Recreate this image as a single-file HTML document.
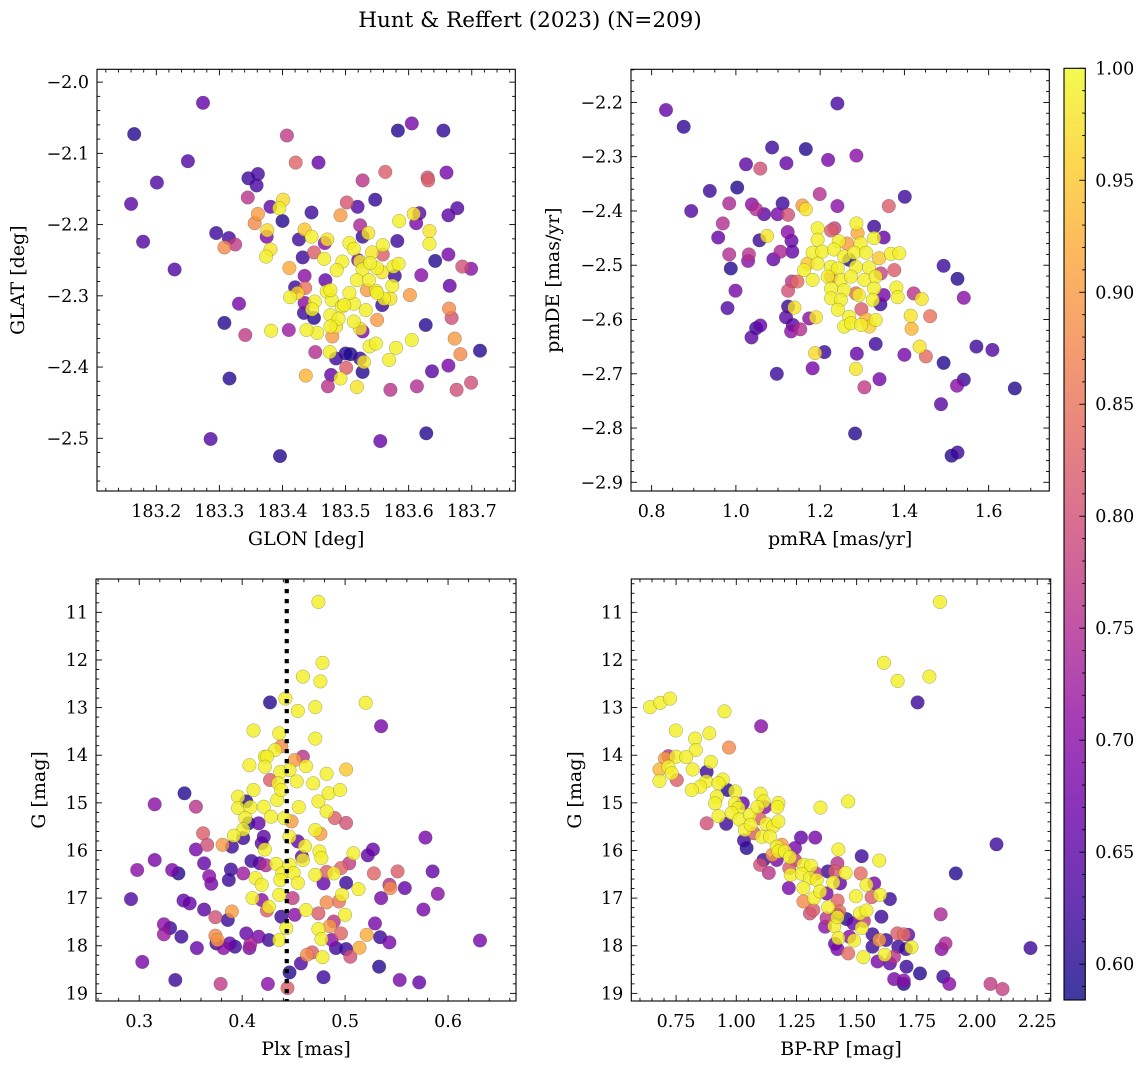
<!DOCTYPE html>
<html><head><meta charset="utf-8"><style>
html,body{margin:0;padding:0;background:#fff;}
svg{display:block;font-family:"DejaVu Serif","Liberation Serif",serif;}
</style></head><body>
<svg id="fig" width="1148" height="1068" viewBox="0 0 1148 1068" xmlns="http://www.w3.org/2000/svg">
<defs><linearGradient id="cbgrad" x1="0" y1="1" x2="0" y2="0"></linearGradient></defs>
<text x="530" y="27" font-size="21.5" text-anchor="middle" fill="#000">Hunt &amp; Reffert (2023) (N=209)</text>
</svg>
<script>
// Panel A: GLON vs GLAT
const glon=[183.274,183.165,183.407,183.583,183.605,183.655,183.250,183.421,183.457,183.201,183.160,183.346,183.361,183.359,183.345,183.527,183.563,183.630,183.631,183.660,183.401,183.395,183.381,183.361,183.356,183.400,183.446,183.502,183.492,183.519,183.547,183.677,183.663,183.617,183.612,183.608,183.585,183.633,183.633,183.179,183.295,183.315,183.325,183.308,183.376,183.375,183.381,183.374,183.229,183.426,183.435,183.446,183.471,183.467,183.432,183.450,183.466,183.411,183.523,183.536,183.527,183.506,183.513,183.559,183.559,183.542,183.582,183.663,183.642,183.685,183.699,183.620,183.665,183.602,183.435,183.420,183.468,183.495,183.486,183.520,183.523,183.527,183.550,183.558,183.576,183.584,183.578,183.574,183.518,183.534,183.548,183.561,183.571,183.558,183.412,183.424,183.436,183.435,183.451,183.470,183.478,183.494,183.513,183.532,183.434,183.450,183.447,183.476,183.489,183.513,183.523,183.527,183.550,183.476,183.479,183.485,183.455,183.438,183.382,183.410,183.331,183.308,183.341,183.452,183.475,183.485,183.500,183.508,183.523,183.529,183.538,183.548,183.580,183.569,183.605,183.627,183.664,183.668,183.673,183.682,183.713,183.663,183.637,183.699,183.676,183.613,183.571,183.527,183.518,183.501,183.492,183.477,183.472,183.437,183.316,183.286,183.396,183.555,183.628,183.506,183.537,183.550,183.498,183.539,183.476];
const glat=[-2.029,-2.073,-2.075,-2.068,-2.058,-2.068,-2.111,-2.113,-2.113,-2.141,-2.171,-2.135,-2.129,-2.145,-2.162,-2.138,-2.126,-2.134,-2.138,-2.127,-2.165,-2.177,-2.175,-2.185,-2.198,-2.195,-2.183,-2.169,-2.187,-2.175,-2.165,-2.177,-2.187,-2.184,-2.198,-2.185,-2.195,-2.209,-2.227,-2.224,-2.212,-2.219,-2.228,-2.232,-2.208,-2.217,-2.235,-2.245,-2.263,-2.221,-2.207,-2.217,-2.221,-2.226,-2.246,-2.239,-2.248,-2.261,-2.201,-2.212,-2.217,-2.226,-2.234,-2.229,-2.242,-2.239,-2.223,-2.242,-2.251,-2.259,-2.262,-2.271,-2.286,-2.299,-2.272,-2.288,-2.278,-2.252,-2.264,-2.250,-2.252,-2.263,-2.261,-2.267,-2.259,-2.255,-2.272,-2.286,-2.278,-2.292,-2.293,-2.304,-2.304,-2.313,-2.302,-2.296,-2.289,-2.310,-2.308,-2.294,-2.306,-2.315,-2.311,-2.320,-2.324,-2.331,-2.319,-2.327,-2.332,-2.336,-2.346,-2.350,-2.334,-2.343,-2.357,-2.343,-2.352,-2.348,-2.349,-2.348,-2.311,-2.338,-2.355,-2.379,-2.379,-2.388,-2.381,-2.382,-2.388,-2.393,-2.371,-2.367,-2.373,-2.390,-2.362,-2.341,-2.318,-2.331,-2.360,-2.382,-2.377,-2.398,-2.406,-2.422,-2.432,-2.427,-2.432,-2.407,-2.428,-2.401,-2.416,-2.411,-2.427,-2.412,-2.416,-2.501,-2.525,-2.504,-2.493,-2.296,-2.278,-2.296,-2.313,-2.254,-2.292];
const probA=[0.66,0.60,0.77,0.60,0.68,0.61,0.64,0.83,0.66,0.64,0.65,0.62,0.63,0.63,0.76,0.76,0.82,0.80,0.82,0.68,0.97,0.99,0.66,0.90,0.88,0.60,0.62,0.81,0.90,0.64,0.61,0.64,0.65,0.65,0.68,0.98,0.99,0.98,0.99,0.64,0.62,0.63,0.77,0.88,0.97,0.68,0.98,0.99,0.64,0.62,0.95,0.99,0.98,0.70,0.62,0.82,0.99,0.92,0.74,0.98,0.62,0.99,0.99,0.99,0.82,0.98,0.62,0.68,0.60,0.80,0.70,0.70,0.66,0.90,0.70,0.62,0.66,0.99,0.99,0.68,0.99,0.99,0.99,0.98,0.99,0.99,0.62,0.99,0.99,0.90,0.99,0.99,0.98,0.62,0.99,0.96,0.85,0.70,0.99,0.99,0.99,0.99,0.99,0.99,0.62,0.60,0.99,0.99,0.99,0.99,0.98,0.68,0.90,0.99,0.90,0.98,0.99,0.99,0.99,0.72,0.68,0.60,0.77,0.75,0.99,0.62,0.60,0.59,0.62,0.98,0.99,0.99,0.99,0.99,0.99,0.60,0.88,0.80,0.90,0.88,0.60,0.68,0.65,0.80,0.80,0.75,0.76,0.60,0.98,0.82,0.99,0.66,0.76,0.93,0.60,0.64,0.60,0.66,0.60,0.99,0.99,0.99,0.99,0.99,0.99];

// Panel B: pmRA vs pmDE
const pmra=[0.834,0.876,1.241,1.086,1.166,1.024,1.058,1.120,1.219,1.286,0.938,1.003,0.894,0.984,1.038,1.048,1.067,1.111,1.099,1.124,1.158,1.166,1.199,1.241,1.401,1.363,0.969,0.958,1.056,1.074,1.123,1.132,0.984,1.031,1.029,1.089,1.106,1.134,0.988,0.999,0.980,1.124,1.133,1.146,1.124,1.139,1.119,1.174,1.135,1.131,1.153,1.058,1.048,1.037,1.190,1.210,1.188,1.182,1.097,1.287,1.285,1.305,1.341,1.332,1.400,1.451,1.436,1.415,1.417,1.461,1.422,1.441,1.493,1.526,1.541,1.571,1.609,1.493,1.541,1.525,1.662,1.487,1.283,1.512,1.526,1.194,1.226,1.234,1.286,1.289,1.328,1.351,1.328,1.194,1.244,1.264,1.296,1.182,1.205,1.233,1.257,1.281,1.309,1.340,1.368,1.388,1.170,1.194,1.226,1.242,1.269,1.285,1.316,1.344,1.376,1.162,1.182,1.218,1.249,1.273,1.305,1.332,1.226,1.257,1.285,1.292,1.328,1.351,1.381,1.384,1.226,1.249,1.325,1.343,1.242,1.298,1.269,1.257,1.273,1.297,1.317,1.332,1.309,1.226];
const pmde=[-2.214,-2.245,-2.202,-2.283,-2.286,-2.314,-2.322,-2.312,-2.306,-2.298,-2.363,-2.357,-2.400,-2.386,-2.388,-2.397,-2.406,-2.386,-2.406,-2.407,-2.390,-2.397,-2.369,-2.391,-2.374,-2.391,-2.423,-2.449,-2.454,-2.446,-2.439,-2.455,-2.480,-2.480,-2.492,-2.489,-2.475,-2.475,-2.506,-2.547,-2.579,-2.547,-2.530,-2.530,-2.576,-2.578,-2.596,-2.598,-2.610,-2.622,-2.618,-2.611,-2.616,-2.633,-2.596,-2.660,-2.662,-2.690,-2.700,-2.663,-2.691,-2.725,-2.710,-2.645,-2.665,-2.668,-2.650,-2.593,-2.617,-2.594,-2.552,-2.562,-2.501,-2.525,-2.560,-2.650,-2.656,-2.680,-2.711,-2.722,-2.727,-2.756,-2.810,-2.851,-2.845,-2.432,-2.436,-2.432,-2.423,-2.441,-2.429,-2.449,-2.450,-2.453,-2.456,-2.460,-2.460,-2.477,-2.475,-2.471,-2.484,-2.477,-2.477,-2.487,-2.479,-2.478,-2.497,-2.497,-2.503,-2.506,-2.490,-2.503,-2.504,-2.515,-2.509,-2.509,-2.527,-2.521,-2.527,-2.521,-2.527,-2.521,-2.543,-2.546,-2.552,-2.555,-2.543,-2.555,-2.541,-2.559,-2.561,-2.564,-2.564,-2.572,-2.582,-2.581,-2.595,-2.613,-2.607,-2.610,-2.613,-2.601,-2.600,-2.521];
const probB=[0.66,0.61,0.63,0.62,0.60,0.65,0.80,0.66,0.68,0.70,0.62,0.60,0.64,0.74,0.70,0.75,0.65,0.62,0.68,0.80,0.90,0.98,0.75,0.70,0.62,0.82,0.75,0.66,0.62,0.98,0.70,0.66,0.75,0.76,0.70,0.66,0.74,0.66,0.60,0.68,0.64,0.80,0.76,0.84,0.62,0.98,0.65,0.70,0.65,0.70,0.75,0.66,0.62,0.65,0.98,0.62,0.97,0.68,0.62,0.66,0.98,0.77,0.68,0.62,0.68,0.84,0.98,0.98,0.93,0.85,0.76,0.98,0.62,0.60,0.70,0.62,0.64,0.60,0.62,0.70,0.60,0.65,0.60,0.60,0.62,0.99,0.82,0.78,0.99,0.92,0.62,0.66,0.99,0.99,0.99,0.90,0.99,0.99,0.99,0.99,0.99,0.99,0.99,0.95,0.99,0.99,0.95,0.99,0.99,0.99,0.60,0.99,0.99,0.78,0.82,0.99,0.99,0.99,0.99,0.99,0.99,0.99,0.99,0.99,0.84,0.99,0.99,0.68,0.99,0.99,0.99,0.99,0.99,0.62,0.99,0.82,0.99,0.99,0.99,0.99,0.96,0.99,0.93,0.85];

// Panel C: Plx vs G
const plx=[0.474,0.478,0.459,0.476,0.442,0.427,0.454,0.471,0.520,0.535,0.471,0.411,0.436,0.438,0.432,0.422,0.424,0.422,0.407,0.451,0.459,0.462,0.446,0.437,0.427,0.435,0.453,0.469,0.482,0.501,0.411,0.396,0.404,0.344,0.315,0.355,0.396,0.408,0.421,0.434,0.438,0.455,0.474,0.484,0.495,0.482,0.490,0.501,0.403,0.406,0.416,0.428,0.441,0.448,0.401,0.392,0.401,0.421,0.446,0.454,0.461,0.471,0.476,0.362,0.366,0.355,0.381,0.390,0.419,0.422,0.315,0.298,0.332,0.338,0.363,0.368,0.370,0.389,0.387,0.401,0.409,0.417,0.423,0.433,0.439,0.446,0.458,0.459,0.475,0.477,0.450,0.454,0.437,0.413,0.419,0.471,0.479,0.482,0.489,0.496,0.504,0.508,0.522,0.527,0.528,0.501,0.513,0.292,0.343,0.349,0.363,0.374,0.386,0.390,0.410,0.419,0.424,0.426,0.438,0.443,0.436,0.449,0.451,0.462,0.474,0.474,0.477,0.482,0.494,0.497,0.500,0.485,0.489,0.496,0.487,0.491,0.501,0.505,0.514,0.521,0.529,0.535,0.543,0.544,0.551,0.558,0.578,0.585,0.590,0.576,0.534,0.543,0.533,0.553,0.572,0.631,0.324,0.330,0.324,0.341,0.356,0.303,0.335,0.374,0.376,0.375,0.382,0.388,0.393,0.404,0.407,0.408,0.416,0.426,0.436,0.379,0.425,0.444,0.446,0.457,0.463,0.468,0.478,0.479];
const gA=[10.78,12.06,12.35,12.45,12.81,12.89,13.07,12.99,12.90,13.39,13.65,13.48,13.54,13.81,13.89,14.03,14.03,14.24,14.21,14.10,14.03,14.23,14.31,14.35,14.52,14.59,14.55,14.59,14.39,14.30,14.73,14.87,14.97,14.80,15.03,15.08,15.11,15.09,15.08,14.94,14.73,15.09,14.97,14.80,14.73,15.18,15.32,15.42,15.32,15.43,15.43,15.29,15.32,15.39,15.56,15.69,15.74,15.71,15.71,15.81,15.91,15.57,15.65,15.64,15.88,15.98,15.88,15.92,15.85,15.98,16.20,16.41,16.41,16.48,16.27,16.54,16.70,16.40,16.62,16.48,16.22,16.27,16.31,16.28,16.48,16.30,16.13,16.20,16.02,16.16,16.47,16.68,16.62,16.58,16.72,16.51,16.69,16.45,16.48,16.37,16.27,16.06,16.10,15.98,16.48,16.68,16.81,17.02,17.05,17.11,17.24,17.40,17.46,17.28,17.00,17.04,17.26,17.18,17.39,17.63,16.93,17.00,17.35,17.25,17.32,17.65,17.86,17.09,17.07,16.93,17.35,17.59,17.49,17.74,17.88,18.05,18.07,18.23,18.04,17.77,17.53,17.00,16.72,16.79,16.44,16.79,15.73,16.44,16.91,17.24,17.82,17.93,18.44,18.72,18.77,17.89,17.55,17.63,17.76,17.81,18.05,18.34,18.72,17.79,17.88,17.95,18.05,17.95,18.02,17.74,18.05,17.96,17.81,17.88,17.88,18.80,18.80,18.89,18.56,18.37,18.19,18.14,18.24,18.66];
const probC=[0.99,0.99,0.99,0.99,0.99,0.60,0.99,0.99,0.99,0.68,0.99,0.99,0.99,0.88,0.99,0.99,0.99,0.99,0.99,0.90,0.76,0.99,0.99,0.99,0.82,0.99,0.99,0.99,0.99,0.95,0.99,0.99,0.60,0.60,0.70,0.76,0.99,0.99,0.99,0.99,0.99,0.99,0.99,0.99,0.99,0.99,0.82,0.80,0.99,0.60,0.66,0.99,0.99,0.90,0.99,0.99,0.62,0.65,0.99,0.66,0.99,0.99,0.90,0.82,0.80,0.68,0.90,0.62,0.65,0.99,0.68,0.70,0.68,0.60,0.66,0.70,0.68,0.62,0.62,0.72,0.62,0.65,0.75,0.99,0.99,0.99,0.66,0.99,0.99,0.99,0.99,0.99,0.99,0.99,0.99,0.99,0.66,0.82,0.99,0.83,0.77,0.99,0.66,0.66,0.83,0.62,0.99,0.64,0.66,0.66,0.65,0.80,0.62,0.90,0.99,0.70,0.82,0.99,0.62,0.99,0.99,0.77,0.70,0.99,0.82,0.99,0.99,0.88,0.85,0.99,0.99,0.90,0.76,0.83,0.70,0.62,0.62,0.80,0.92,0.92,0.68,0.68,0.75,0.88,0.82,0.66,0.68,0.66,0.70,0.68,0.62,0.68,0.60,0.68,0.66,0.68,0.70,0.62,0.72,0.62,0.66,0.68,0.62,0.88,0.90,0.62,0.70,0.66,0.62,0.66,0.68,0.74,0.68,0.62,0.99,0.77,0.70,0.82,0.60,0.64,0.88,0.82,0.99,0.62];

// Panel D: BP-RP vs G
const bprp=[1.846,1.613,1.670,1.802,1.753,0.642,0.684,0.725,0.951,1.103,0.749,0.829,0.888,0.970,0.832,0.718,0.704,0.750,0.792,0.681,0.718,0.732,0.753,0.681,0.819,0.877,0.894,0.875,0.850,0.815,0.944,0.926,0.964,0.995,0.919,0.912,1.027,0.995,1.009,0.981,0.926,0.958,0.877,1.013,1.057,1.036,1.060,1.101,1.113,1.088,1.119,1.175,1.171,1.096,1.124,1.154,1.175,1.074,1.106,1.140,1.032,1.043,1.168,1.189,1.175,1.150,1.168,1.113,1.099,1.135,1.269,1.328,1.244,1.202,1.223,1.244,1.220,1.226,1.279,1.310,1.272,1.306,1.334,1.331,1.279,1.218,1.279,1.323,1.348,1.375,1.306,1.320,1.382,1.375,1.369,1.380,1.420,1.410,1.431,1.403,1.454,1.424,1.465,1.350,1.521,1.517,1.573,1.541,1.594,1.497,1.562,1.597,1.638,1.421,1.428,1.420,1.458,1.486,1.530,1.514,1.541,1.521,1.603,1.407,1.420,1.424,1.410,1.420,1.470,1.465,1.489,1.528,1.566,1.566,1.594,1.622,1.587,1.617,1.638,1.655,1.669,1.696,1.714,1.673,1.705,1.728,1.707,1.656,1.696,1.696,1.763,1.849,1.869,1.853,1.860,1.885,1.912,2.081,2.056,2.106,2.222];
const gB=[10.78,12.06,12.44,12.35,12.89,12.99,12.90,12.81,13.08,13.39,13.48,13.65,13.54,13.84,13.89,14.02,14.07,14.03,14.04,14.30,14.24,14.38,14.52,14.54,14.30,14.35,14.14,14.55,14.66,14.73,14.51,14.59,14.73,14.76,14.87,15.01,15.01,15.01,15.11,15.21,15.28,15.44,15.43,15.35,15.25,15.57,15.46,14.81,14.97,15.09,15.09,15.00,15.09,15.32,15.44,15.49,15.39,15.64,15.71,15.71,15.79,15.95,15.92,15.88,16.02,16.09,16.20,16.20,16.30,16.47,15.73,15.73,15.95,16.02,16.14,16.20,16.37,16.51,16.30,16.32,16.49,16.58,16.62,16.48,16.79,16.79,17.07,17.00,16.86,16.90,17.32,17.25,17.19,17.42,17.60,16.44,16.27,16.44,16.69,16.67,16.47,15.98,14.97,15.10,16.12,16.48,16.69,16.72,16.21,16.96,16.98,16.93,17.02,17.05,17.28,17.35,17.44,17.53,17.48,17.32,17.26,17.63,17.39,17.59,17.40,17.84,17.96,18.07,17.81,18.16,17.89,18.24,17.76,18.02,17.88,17.88,18.33,18.19,18.37,18.23,17.74,17.76,17.77,18.02,18.07,18.03,18.44,18.70,18.73,18.80,18.58,17.34,17.95,18.07,18.65,18.80,16.48,15.87,18.80,18.91,18.05];
const probD=[0.99,0.99,0.99,0.99,0.62,0.99,0.99,0.99,0.99,0.70,0.99,0.99,0.99,0.88,0.99,0.76,0.90,0.99,0.99,0.93,0.99,0.99,0.82,0.99,0.99,0.62,0.99,0.99,0.99,0.99,0.99,0.99,0.60,0.99,0.99,0.99,0.66,0.99,0.99,0.99,0.99,0.62,0.80,0.99,0.99,0.99,0.99,0.99,0.99,0.99,0.70,0.99,0.99,0.82,0.99,0.99,0.99,0.82,0.99,0.99,0.62,0.60,0.99,0.90,0.99,0.90,0.68,0.62,0.80,0.76,0.66,0.68,0.68,0.99,0.99,0.77,0.82,0.99,0.99,0.99,0.99,0.99,0.99,0.75,0.99,0.68,0.88,0.99,0.99,0.68,0.80,0.82,0.99,0.76,0.70,0.62,0.76,0.82,0.66,0.99,0.99,0.99,0.99,0.99,0.62,0.84,0.68,0.99,0.99,0.99,0.82,0.99,0.62,0.83,0.84,0.62,0.60,0.66,0.77,0.99,0.99,0.99,0.62,0.99,0.99,0.99,0.66,0.68,0.70,0.84,0.99,0.99,0.62,0.62,0.90,0.62,0.68,0.99,0.65,0.76,0.82,0.84,0.66,0.62,0.62,0.99,0.62,0.68,0.70,0.60,0.60,0.74,0.74,0.70,0.62,0.70,0.60,0.62,0.77,0.78,0.62];

// Axis tick values
const ticksA_x=[183.2,183.3,183.4,183.5,183.6,183.7];
const ticksA_y=[-2.0,-2.1,-2.2,-2.3,-2.4,-2.5];
const ticksB_x=[0.8,1.0,1.2,1.4,1.6];
const ticksB_y=[-2.2,-2.3,-2.4,-2.5,-2.6,-2.7,-2.8,-2.9];
const ticksC_x=[0.3,0.4,0.5,0.6];
const ticksG=[11,12,13,14,15,16,17,18,19];
const ticksD_x=[0.75,1.00,1.25,1.50,1.75,2.00,2.25];
const ticksCbar=[0.60,0.65,0.70,0.75,0.80,0.85,0.90,0.95,1.00];
const plxRef=0.4433;
const pMin=0.584, pMax=1.0;

const NS='http://www.w3.org/2000/svg';
const svg=document.getElementById('fig');
const TICKFS=17.5, LABFS=19;
function mk(tag,attrs,parent){const e=document.createElementNS(NS,tag);for(const k in attrs)e.setAttribute(k,attrs[k]);(parent||svg).appendChild(e);return e;}

const plasma=[[13,8,135],[65,4,157],[106,0,168],[143,13,164],[177,42,144],[204,71,120],[225,100,98],[242,132,75],[252,166,54],[252,206,37],[240,249,33]];
function cmap(p){let t=(p-pMin)/(pMax-pMin);t=Math.max(0,Math.min(1,t));const f=t*10;const i=Math.min(9,Math.floor(f));const u=f-i;const a=plasma[i],b=plasma[i+1];return 'rgb('+[0,1,2].map(k=>Math.round(a[k]+(b[k]-a[k])*u)).join(',')+')';}
function fmt(v,d){const s=Math.abs(v).toFixed(d);return (v<0?'\u2212':'')+s;}

function panel(cfg){
  const g=mk('g',{});
  
  
  const L=cfg.box[0],T=cfg.box[1],R=cfg.box[2],B=cfg.box[3];
  const sx=v=>L+(v-cfg.xr[0])/(cfg.xr[1]-cfg.xr[0])*(R-L);
  const sy=cfg.invert?(v=>T+(v-cfg.yr[0])/(cfg.yr[1]-cfg.yr[0])*(B-T)):(v=>B-(v-cfg.yr[0])/(cfg.yr[1]-cfg.yr[0])*(B-T));
  const clipId='clip'+cfg.name;
  const cp=mk('clipPath',{id:clipId},g);mk('rect',{x:L,y:T,width:R-L,height:B-T},cp);
  const pts=mk('g',{'clip-path':'url(#'+clipId+')'},g);
  
  
  const idx=cfg.xs.map((_,i)=>i).sort((a,b)=>cfg.ps[a]-cfg.ps[b]);
  idx.forEach(i=>{
    const c=mk('circle',{cx:sx(cfg.xs[i]).toFixed(1),cy:sy(cfg.ys[i]).toFixed(1),r:6.8,fill:cmap(cfg.ps[i]),'fill-opacity':0.8,stroke:'rgba(60,60,60,0.45)','stroke-width':0.5},pts);
    
    
  });
  if(cfg.vline!==undefined){
    const ln=mk('line',{x1:sx(cfg.vline),x2:sx(cfg.vline),y1:T,y2:B,stroke:'#000','stroke-width':4.2,'stroke-dasharray':'4.2,5.8'},g);
    
    
  }
  const tg=mk('g',{stroke:'#000','stroke-width':0.9},g);
  
  
  const xmin=Math.ceil(cfg.xr[0]/cfg.xminor-1e-6);
  for(let k=xmin;k*cfg.xminor<=cfg.xr[1];k++){const v=k*cfg.xminor;const x=sx(v);const major=cfg.xt.some(t=>Math.abs(t-v)<1e-6);const len=major?6:3.2;
    mk('line',{x1:x,x2:x,y1:B,y2:B-len},tg);mk('line',{x1:x,x2:x,y1:T,y2:T+len},tg);}
  const lo=Math.min(cfg.yr[0],cfg.yr[1]),hi=Math.max(cfg.yr[0],cfg.yr[1]);
  const ymin=Math.ceil(lo/cfg.yminor-1e-6);
  for(let k=ymin;k*cfg.yminor<=hi;k++){const v=k*cfg.yminor;const y=sy(v);const major=cfg.yt.some(t=>Math.abs(t-v)<1e-6);const len=major?6:3.2;
    mk('line',{x1:L,x2:L+len,y1:y,y2:y},tg);mk('line',{x1:R,x2:R-len,y1:y,y2:y},tg);}
  const fr=mk('rect',{x:L,y:T,width:R-L,height:B-T,fill:'none',stroke:'#000','stroke-width':1.1},g);
  
  
  cfg.xt.forEach(v=>{const t=mk('text',{x:sx(v),y:B+26,'font-size':TICKFS,'text-anchor':'middle',fill:'#000'},g);t.textContent=fmt(v,cfg.xd);
    
    });
  cfg.yt.forEach(v=>{const t=mk('text',{x:L-8,y:sy(v)+6,'font-size':TICKFS,'text-anchor':'end',fill:'#000'},g);t.textContent=fmt(v,cfg.yd);
    
    });
  const xl=mk('text',{x:(L+R)/2,y:B+54,'font-size':LABFS,'text-anchor':'middle',fill:'#000'},g);xl.textContent=cfg.xlabel;
  
  
  const yx=cfg.ylx,yy=(T+B)/2;
  const yl=mk('text',{x:yx,y:yy,'font-size':LABFS,'text-anchor':'middle',fill:'#000',transform:'rotate(-90 '+yx+' '+yy+')'},g);yl.textContent=cfg.ylabel;
  
  
}

panel({name:'glon-glat-panel',box:[97,69.3,515.3,491],xr:[183.106,183.769],yr:[-2.574,-1.982],xs:glon,ys:glat,ps:probA,xt:ticksA_x,yt:ticksA_y,xminor:0.02,yminor:0.02,xd:1,yd:1,xlabel:'GLON [deg]',ylabel:'GLAT [deg]',ylx:24});
panel({name:'pm-panel',box:[631,69.3,1049.3,491],xr:[0.751,1.744],yr:[-2.916,-2.139],xs:pmra,ys:pmde,ps:probB,xt:ticksB_x,yt:ticksB_y,xminor:0.05,yminor:0.02,xd:1,yd:1,xlabel:'pmRA [mas/yr]',ylabel:'pmDE [mas/yr]',ylx:559});
panel({name:'plx-g-panel',box:[96,579,516,1001],xr:[0.258,0.666],yr:[10.30,19.16],invert:true,xs:plx,ys:gA,ps:probC,xt:ticksC_x,yt:ticksG,xminor:0.02,yminor:0.2,xd:1,yd:0,xlabel:'Plx [mas]',ylabel:'G [mag]',ylx:45,vline:plxRef});
panel({name:'cmd-panel',box:[631.3,579,1050.7,1001],xr:[0.564,2.306],yr:[10.30,19.16],invert:true,xs:bprp,ys:gB,ps:probD,xt:ticksD_x,yt:ticksG,xminor:0.05,yminor:0.2,xd:2,yd:0,xlabel:'BP-RP [mag]',ylabel:'G [mag]',ylx:581});

// colorbar
(function(){
  const L=1064,R=1085.3,T=68.3,B=1000;
  const grad=document.getElementById('cbgrad');
  for(let i=0;i<=20;i++){const p=pMin+(pMax-pMin)*i/20;mk('stop',{offset:(i/20).toFixed(3),'stop-color':cmap(p),'stop-opacity':0.8},grad);}
  const g=mk('g',{});
  
  
  mk('rect',{x:L,y:T,width:R-L,height:B-T,fill:'url(#cbgrad)',stroke:'#000','stroke-width':1.1},g);
  const sy=v=>B-(v-pMin)/(pMax-pMin)*(B-T);
  for(let k=59;k<=100;k++){const v=k/100;const y=sy(v);const major=k%5===0;mk('line',{x1:R,x2:R-(major?6:3.2),y1:y,y2:y,stroke:'#000','stroke-width':0.9},g);}
  ticksCbar.forEach(v=>{const t=mk('text',{x:R+10,y:sy(v)+6,'font-size':TICKFS,fill:'#000'},g);t.textContent=v.toFixed(2);
    
    });
})();
</script>
</body></html>
